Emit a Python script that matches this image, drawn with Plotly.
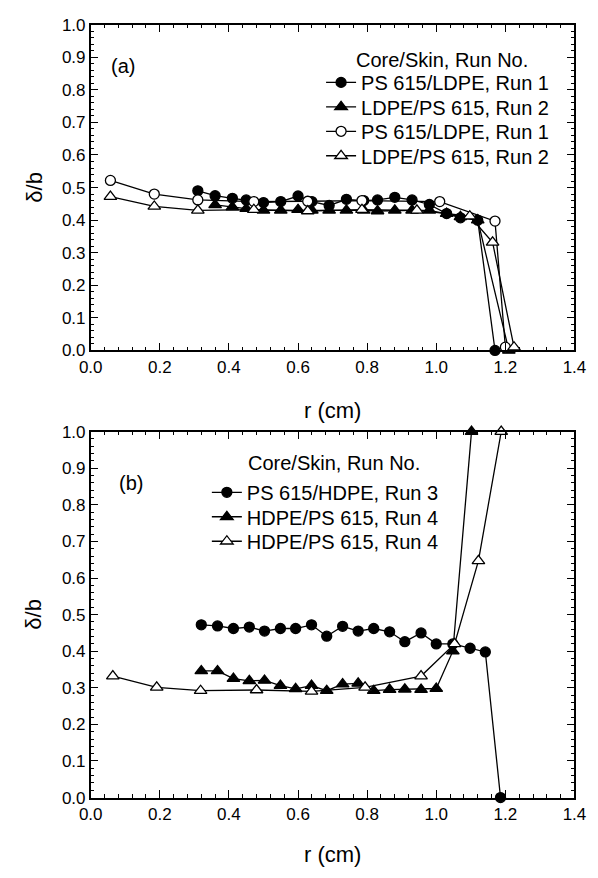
import plotly.graph_objects as go

# ---------------- Panel (a): LDPE pairs ----------------
a_run1_closed_r = [0.31, 0.36, 0.41, 0.45, 0.50, 0.55, 0.60, 0.64, 0.69, 0.74, 0.79, 0.83,
                   0.88, 0.93, 0.98, 1.03, 1.07, 1.12, 1.17]
a_run1_closed_d = [0.49, 0.475, 0.467, 0.462, 0.454, 0.457, 0.474, 0.457, 0.445, 0.464, 0.46, 0.462,
                   0.47, 0.462, 0.448, 0.42, 0.407, 0.40, 0.0]

a_run2_closed_r = [0.36, 0.41, 0.45, 0.50, 0.55, 0.60, 0.64, 0.69, 0.74, 0.79, 0.83, 0.88,
                   0.93, 0.98, 1.03, 1.07, 1.12, 1.21]
a_run2_closed_d = [0.447, 0.44, 0.435, 0.43, 0.43, 0.432, 0.43, 0.43, 0.43, 0.43, 0.428, 0.43,
                   0.43, 0.43, 0.42, 0.41, 0.40, 0.0]

a_run1_open_r = [0.057, 0.184, 0.31, 0.472, 0.628, 0.785, 1.01, 1.17, 1.20]
a_run1_open_d = [0.522, 0.48, 0.462, 0.457, 0.458, 0.46, 0.457, 0.397, 0.01]

a_run2_open_r = [0.057, 0.184, 0.31, 0.472, 0.628, 0.785, 0.944, 1.097, 1.163, 1.225]
a_run2_open_d = [0.472, 0.442, 0.43, 0.432, 0.428, 0.432, 0.43, 0.412, 0.332, 0.01]

a_names = ["PS 615/LDPE, Run 1", "LDPE/PS 615, Run 2", "PS 615/LDPE, Run 1", "LDPE/PS 615, Run 2"]

# ---------------- Panel (b): HDPE pairs ----------------
b_run3_closed_r = [0.32, 0.367, 0.413, 0.459, 0.503, 0.549, 0.593, 0.639, 0.683, 0.729, 0.774,
                   0.819, 0.865, 0.909, 0.956, 1.0, 1.048, 1.098, 1.142, 1.186]
b_run3_closed_d = [0.472, 0.469, 0.462, 0.466, 0.455, 0.462, 0.462, 0.472, 0.441, 0.468, 0.455,
                   0.462, 0.453, 0.426, 0.45, 0.42, 0.42, 0.408, 0.398, 0.0]

b_run4_closed_r = [0.32, 0.367, 0.413, 0.459, 0.503, 0.549, 0.593, 0.639, 0.683, 0.729, 0.774,
                   0.819, 0.865, 0.909, 0.956, 1.0, 1.048, 1.102]
b_run4_closed_d = [0.346, 0.346, 0.325, 0.319, 0.32, 0.306, 0.297, 0.306, 0.292, 0.31, 0.312,
                   0.292, 0.295, 0.296, 0.295, 0.298, 0.40, 1.0]

b_run4_open_r = [0.064, 0.191, 0.318, 0.48, 0.639, 0.794, 0.956, 1.053, 1.122, 1.188]
b_run4_open_d = [0.332, 0.301, 0.292, 0.294, 0.29, 0.301, 0.332, 0.42, 0.647, 1.0]

b_names = ["PS 615/HDPE, Run 3", "HDPE/PS 615, Run 4", "HDPE/PS 615, Run 4"]

legend_title = "Core/Skin, Run No."

FONT = "Liberation Sans, Arial, sans-serif"
W, H = 598, 878

# plot-area placement in pixels
X_LEFT, X_RIGHT = 82, 586
A_TOP, A_BOTTOM = 16, 349
B_TOP, B_BOTTOM = 432, 806

# legend rows (pixel centre of each entry) and left edge of each legend block
A_LEG_X, A_LEG_ROWS = 322, [75, 100, 125, 150]
B_LEG_X, B_LEG_ROWS = 203, [494, 519, 544]


def px_x(p):
    return p / W


def px_y(p):
    return 1 - p / H


def series(r, d, symbol, filled, name, xa, ya, legend):
    return go.Scatter(
        x=r, y=d, name=name, mode="lines+markers",
        xaxis=xa, yaxis=ya, legend=legend, cliponaxis=False,
        line=dict(color="black", width=1.3),
        marker=dict(symbol=symbol, size=10 if symbol == "circle" else 11,
                    color="black" if filled else "white",
                    line=dict(color="black", width=1.3)),
    )


fig = go.Figure()
a_series = [
    (a_run1_closed_r, a_run1_closed_d, "circle", True),
    (a_run2_closed_r, a_run2_closed_d, "triangle-up", True),
    (a_run1_open_r, a_run1_open_d, "circle", False),
    (a_run2_open_r, a_run2_open_d, "triangle-up", False),
]
b_series = [
    (b_run3_closed_r, b_run3_closed_d, "circle", True),
    (b_run4_closed_r, b_run4_closed_d, "triangle-up", True),
    (b_run4_open_r, b_run4_open_d, "triangle-up", False),
]

legend_style = dict(
    xanchor="left", yanchor="middle", bgcolor="rgba(0,0,0,0)", borderwidth=0,
    font=dict(family=FONT, size=20, color="black"), itemwidth=30,
)
legend_layouts = {}
n = 0
for i, (r, d, sym, filled) in enumerate(a_series):
    n += 1
    key = "legend" if n == 1 else f"legend{n}"
    fig.add_trace(series(r, d, sym, filled, a_names[i], "x", "y", key))
    legend_layouts[key] = dict(x=px_x(A_LEG_X), y=px_y(A_LEG_ROWS[i]), **legend_style)
for i, (r, d, sym, filled) in enumerate(b_series):
    n += 1
    key = f"legend{n}"
    fig.add_trace(series(r, d, sym, filled, b_names[i], "x2", "y2", key))
    legend_layouts[key] = dict(x=px_x(B_LEG_X), y=px_y(B_LEG_ROWS[i]), **legend_style)


def x_axis(domain_anchor):
    return dict(
        domain=[px_x(X_LEFT), px_x(X_RIGHT)], anchor=domain_anchor,
        range=[0, 1.4], dtick=0.2, tick0=0, tickformat=".1f",
        ticks="inside", ticklen=8, tickwidth=1.2, tickcolor="black",
        minor=dict(ticks="inside", ticklen=4, dtick=0.04, tickcolor="black", tickwidth=1, showgrid=False),
        showline=True, linecolor="black", linewidth=1.5, mirror="ticks",
        showgrid=False, zeroline=False,
        tickfont=dict(family=FONT, size=17, color="black"),
    )


def y_axis(top, bottom, domain_anchor):
    return dict(
        domain=[px_y(bottom), px_y(top)], anchor=domain_anchor,
        range=[0, 1.0], dtick=0.1, tick0=0, tickformat=".1f",
        ticks="inside", ticklen=8, tickwidth=1.2, tickcolor="black",
        minor=dict(ticks="inside", ticklen=4, dtick=0.02, tickcolor="black", tickwidth=1, showgrid=False),
        showline=True, linecolor="black", linewidth=1.5, mirror="ticks",
        showgrid=False, zeroline=False,
        tickfont=dict(family=FONT, size=17, color="black"),
    )


annotations = [
    dict(text="(a)", x=px_x(116), y=px_y(58)),
    dict(text="(b)", x=px_x(124), y=px_y(484)),
    dict(text=legend_title, x=px_x(356), y=px_y(52), xanchor="left"),
    dict(text=legend_title, x=px_x(244), y=px_y(464), xanchor="left"),
    dict(text="r (cm)", x=px_x((X_LEFT + X_RIGHT) / 2), y=px_y(410), font_size=22),
    dict(text="r (cm)", x=px_x((X_LEFT + X_RIGHT) / 2), y=px_y(864), font_size=22),
    dict(text="δ/b", x=px_x(23), y=px_y((A_TOP + A_BOTTOM) / 2), textangle=-90, font_size=22),
    dict(text="δ/b", x=px_x(23), y=px_y((B_TOP + B_BOTTOM) / 2), textangle=-90, font_size=22),
]
for ann in annotations:
    ann.setdefault("xanchor", "center")
    ann.update(xref="paper", yref="paper", yanchor="middle", showarrow=False)
    size = ann.pop("font_size", 20)
    ann["font"] = dict(family=FONT, size=size, color="black")

fig.update_layout(
    width=W, height=H,
    margin=dict(l=0, r=0, t=0, b=0),
    paper_bgcolor="white", plot_bgcolor="white",
    font=dict(family=FONT, color="black"),
    xaxis=x_axis("y"), yaxis=y_axis(A_TOP, A_BOTTOM, "x"),
    xaxis2=x_axis("y2"), yaxis2=y_axis(B_TOP, B_BOTTOM, "x2"),
    annotations=annotations,
    showlegend=True,
    **legend_layouts,
)

fig.write_html("out.html")
